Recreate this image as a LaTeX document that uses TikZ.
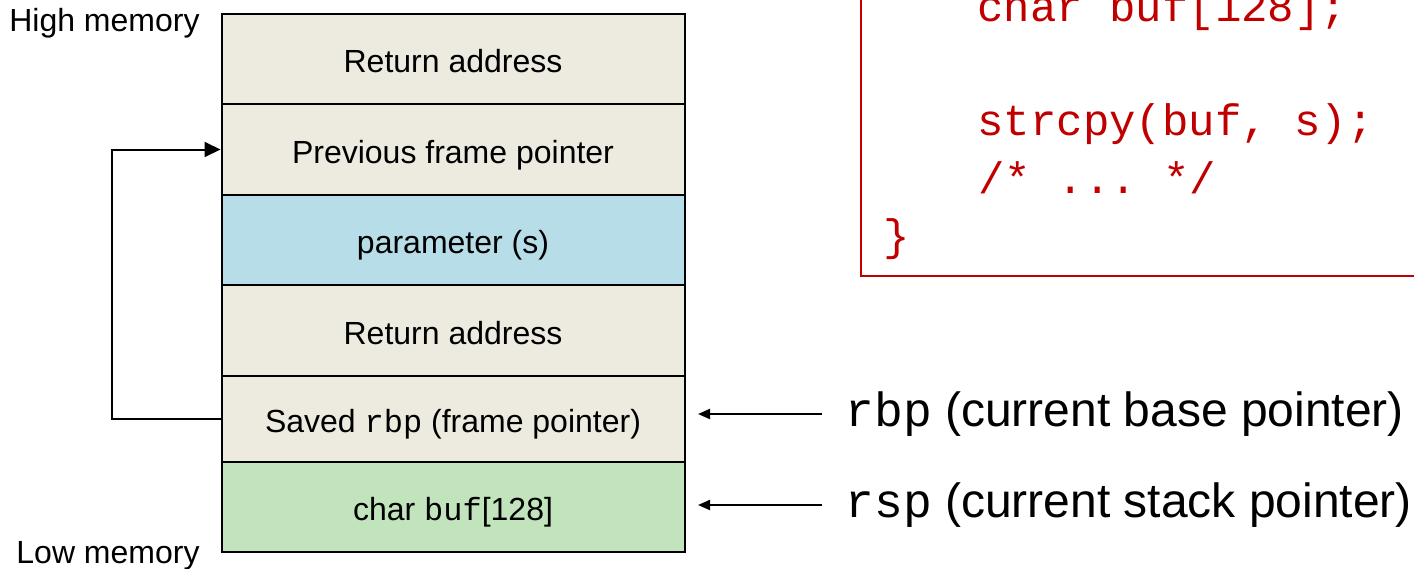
\documentclass[tikz,border=0pt]{standalone}
\usepackage{fontspec}
\setmainfont{Liberation Sans}
\setmonofont{Liberation Mono}
\usetikzlibrary{arrows.meta}
\definecolor{cellbeige}{RGB}{237,234,224}
\definecolor{cellblue}{RGB}{183,221,232}
\definecolor{cellgreen}{RGB}{193,228,189}
\definecolor{codered}{RGB}{192,0,0}

\begin{document}
\begin{tikzpicture}[x=0.5pt,y=-0.5pt,
  cell/.style={draw, line width=1pt, fill=cellbeige, minimum width=231.5pt, inner sep=0pt, text height=13.5pt, text depth=0pt, font=\fontsize{16}{19}\selectfont},
  side/.style={anchor=east, inner sep=0pt, font=\fontsize{16}{19}\selectfont},
  ptrlbl/.style={anchor=west, inner sep=0pt, font=\fontsize{24}{28}\selectfont},
  code/.style={anchor=base west, inner sep=0pt, text=codered, font=\ttfamily\fontsize{22}{26}\selectfont},
  ptr/.style={line width=1pt, -{Triangle[length=6pt,width=5pt]}, shorten <=11.5pt},
  back/.style={line width=1pt, -{Triangle[length=8pt,width=7.5pt]}}]
  \useasboundingbox (0,0) rectangle (1414,568);
  %% the stack, high memory on top
  \node[cell, minimum height=45pt] at (453,59) (RA2) {Return address};
  \node[cell, minimum height=45.5pt] at (453,149.5) (PFP) {Previous frame pointer};
  \node[cell, fill=cellblue, minimum height=45pt] at (453,240) (PAR) {parameter (s)};
  \node[cell, minimum height=45.5pt] at (453,330.5) (RA1) {Return address};
  \node[cell, minimum height=43pt] at (453,419) (SRBP) {Saved {\ttfamily rbp} (frame pointer)};
  \node[cell, fill=cellgreen, minimum height=45pt] at (453,507) (BUF) {char {\ttfamily buf}[128]};
  \node[side] at (200,23) (HI) {High memory};
  \node[side] at (200,556) (LO) {Low memory};
  %% saved rbp points back to the previous frame
  \draw[back] (SRBP.west) -- ++(-109,0) |- (PFP.west);
  %% registers
  \node[ptrlbl] at (845,414) (RBP) {{\ttfamily rbp} (current base pointer)};
  \node[ptrlbl] at (845,505) (RSP) {{\ttfamily rsp} (current stack pointer)};
  \coordinate (RBPtip) at (698,414);
  \coordinate (RSPtip) at (698,505);
  \draw[ptr] (RBP.west) -- (RBPtip);
  \draw[ptr] (RSP.west) -- (RSPtip);
  %% code box, cut off by the page
  \draw[codered, line width=1pt] (861,-20) rectangle (1440,276);
  \node[code] at (977,21) (C1) {char buf[128];};
  \node[code] at (977,135) (C2) {strcpy(buf, s);};
  \node[code] at (978,193) (C3) {/* ... */};
  \node[code] at (883,250) (C4) {\}};
\end{tikzpicture}
\end{document}
